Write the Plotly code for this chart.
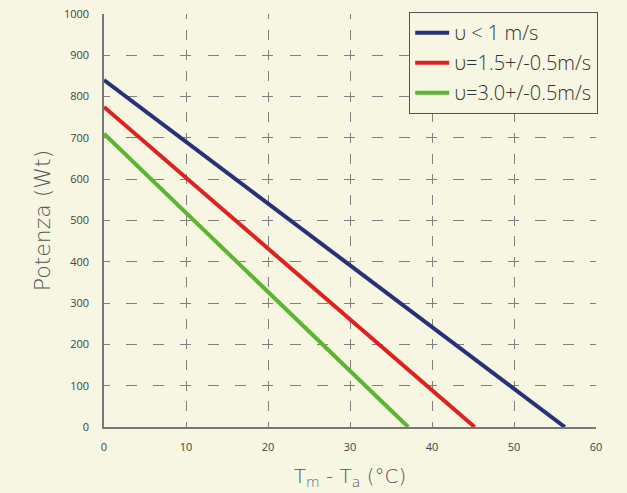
import plotly.graph_objects as go

series_names = ["υ < 1 m/s", "υ=1.5+/-0.5m/s", "υ=3.0+/-0.5m/s"]
series_x = [[0, 56.2], [0, 45.2], [0, 37.1]]
series_y = [[840, 0], [775, 0], [710, 0]]
series_colors = ["#28307a", "#e0201e", "#5cb531"]

x_ticks = [0, 10, 20, 30, 40, 50, 60]
y_ticks = [0, 100, 200, 300, 400, 500, 600, 700, 800, 900, 1000]

bg = "#f6f6e2"
font_family = "'Open Sans', 'Noto Sans', sans-serif"

fig = go.Figure()
for i, (name, xs, ys, c) in enumerate(zip(series_names, series_x, series_y, series_colors)):
    fig.add_trace(go.Scatter(x=xs, y=ys, mode="lines", name=name, legendgroup=f"g{i}",
                             line=dict(color=c, width=4)))

# dash patterns centered on grid intersections (plot 492 x 413 px)
h_dash = "5.5px,16.3px,11px,16.3px,11px,16.3px,5.5px,0px"
v_dash = "5px,10.65px,10px,10.65px,5px,0px"

fig.update_layout(
    width=627, height=493,
    paper_bgcolor=bg, plot_bgcolor=bg,
    margin=dict(l=104, r=31, t=14, b=66),
    font=dict(family=font_family, color="#444"),
    showlegend=True,
    legend=dict(x=1.004, y=1.005, xanchor="right", yanchor="top",
                bgcolor=bg, bordercolor="#555", borderwidth=1.2,
                font=dict(size=20, color="#333", family=font_family, weight=300),
                itemwidth=34, tracegroupgap=1),
    xaxis=dict(range=[0, 60], tickvals=x_ticks,
               showgrid=True, gridcolor="#808080", gridwidth=1.3, griddash=v_dash,
               showline=True, linecolor="#777", linewidth=1.5,
               ticks="", zeroline=False, automargin=False, ticklabelstandoff=9,
               tickfont=dict(size=11, color="#444"),
               title=dict(text="T<sub>m</sub> - T<sub>a</sub> (°C)",
                          font=dict(size=20, color="#555", family="'DejaVu Sans', sans-serif", weight=300),
                          standoff=16)),
    yaxis=dict(range=[0, 1000], tickvals=y_ticks,
               showgrid=True, gridcolor="#808080", gridwidth=1.3, griddash=h_dash,
               showline=True, linecolor="#777", linewidth=1.5,
               ticks="", zeroline=False, automargin=False, ticklabelstandoff=11,
               tickfont=dict(size=11, color="#444"),
               title=dict(text="Potenza (Wt)",
                          font=dict(size=22, color="#555", family="'DejaVu Sans', sans-serif", weight=300),
                          standoff=7)),
)

fig.write_html("out.html", config={"displayModeBar": False},
               post_script="document.body.style.margin='0';document.body.style.overflow='hidden';")
